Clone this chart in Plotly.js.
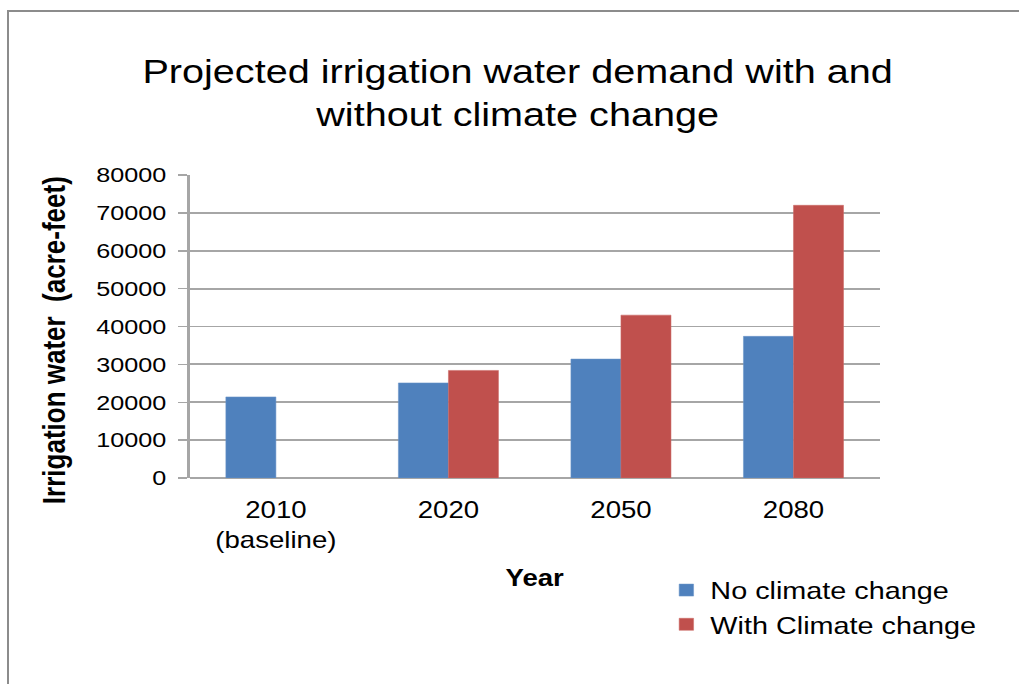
<!DOCTYPE html>
<html>
<head>
<meta charset="utf-8">
<script src="https://cdn.plot.ly/plotly-3.0.1.min.js"></script>
<style>
html,body{margin:0;padding:0;background:#fff;overflow:hidden;}
#frame{position:absolute;left:7px;top:10px;width:1030px;height:700px;border-top:2px solid #8c8c8c;border-left:2px solid #8c8c8c;}
#chart{position:absolute;left:0;top:0;width:849px;height:684px;transform:scaleX(1.2002);transform-origin:0 0;}
</style>
</head>
<body>
<div id="frame"></div>
<div id="chart"></div>
<script>
const categories = ["2010<br>(baseline)", "2020", "2050", "2080"];
const noClimate = [21400, 25100, 31400, 37400];
const withClimate = [null, 28400, 43000, 72000];
const seriesNames = ["No climate change", "With Climate change"];
const yTitle = "<b>Irrigation water  (acre-feet)</b>";

const font = "Liberation Sans, Arial, sans-serif";
const data = [
  {type: "bar", x: categories, y: noClimate, name: seriesNames[0],
   marker: {color: "#4F81BD", line: {color: "#6b95c8", width: 0.5}}},
  {type: "bar", x: categories, y: withClimate, name: seriesNames[1],
   marker: {color: "#C0504D", line: {color: "#cc6a67", width: 0.5}}}
];
const layout = {
  width: 849, height: 684,
  paper_bgcolor: "rgba(0,0,0,0)", plot_bgcolor: "rgba(0,0,0,0)",
  margin: {l: 158, r: 116, t: 175, b: 206},
  barmode: "group", bargap: 0.42, bargroupgap: 0,
  font: {family: font, color: "#000"},
  title: {text: "Projected irrigation water demand with and<br>without climate change",
          font: {family: font, size: 33, color: "#000"},
          xref: "container", x: 0.508, xanchor: "center",
          yref: "container", y: 0.879, yanchor: "middle"},
  xaxis: {
    type: "category",
    title: {text: "<b>Year</b>", font: {family: font, size: 23}, standoff: 18},
    tickfont: {family: font, size: 23}, showline: false, showgrid: false,
    ticks: "", ticklabelstandoff: 16
  },
  yaxis: {
    range: [0, 80000], dtick: 10000, tickformat: "d",
    tickfont: {family: font, size: 21}, ticklabelstandoff: 6,
    showgrid: true, gridcolor: "#a6a6a6", gridwidth: 1.8,
    showline: true, linecolor: "#a6a6a6", linewidth: 1.8,
    ticks: "outside", ticklen: 7.5, tickcolor: "#a6a6a6", tickwidth: 1.5,
    zeroline: true, zerolinecolor: "#a6a6a6", zerolinewidth: 2
  },
  annotations: [{
    text: yTitle, textangle: -90, showarrow: false,
    xref: "paper", yref: "paper", x: -0.1965, y: 0.455,
    xanchor: "center", yanchor: "middle",
    font: {family: font, size: 26, color: "#000"}
  }],
  legend: {x: 0.685, y: -0.297, xanchor: "left", yanchor: "top",
           font: {family: font, size: 24}, bgcolor: "rgba(0,0,0,0)", tracegroupgap: 0, itemwidth: 30},
  showlegend: true
};
Plotly.newPlot("chart", data, layout, {displayModeBar: false, staticPlot: true});
</script>
</body>
</html>
